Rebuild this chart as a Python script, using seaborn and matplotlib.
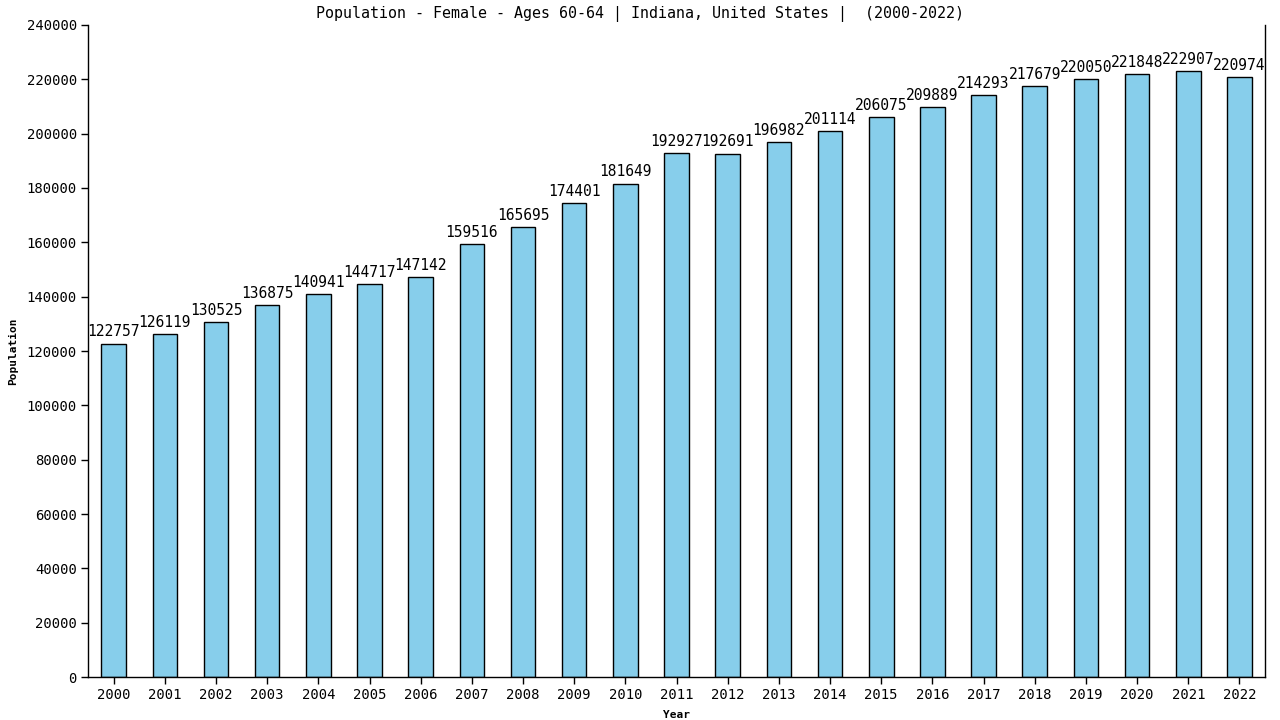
import pandas as pd
import matplotlib
matplotlib.use("Agg")
import matplotlib.pyplot as plt
import seaborn as sns

# data
years = [str(y) for y in range(2000, 2023)]
population = [122757, 126119, 130525, 136875, 140941, 144717, 147142, 159516,
              165695, 174401, 181649, 192927, 192691, 196982, 201114, 206075,
              209889, 214293, 217679, 220050, 221848, 222907, 220974]

df = pd.DataFrame({"Year": years, "Population": population})

sns.set_theme(style="white")
plt.rcParams['font.family'] = ['DejaVu Sans Mono']
plt.rcParams['text.color'] = 'black'
plt.rcParams['axes.labelcolor'] = 'black'
plt.rcParams['xtick.color'] = 'black'
plt.rcParams['ytick.color'] = 'black'

fig = plt.figure(figsize=(12.8, 7.2), dpi=100)
ax = fig.add_axes([0.0688, 0.0597, 0.9195, 0.9056])

sns.barplot(data=df, x="Year", y="Population", color="#87ceeb", saturation=1,
            width=0.48, edgecolor="black", linewidth=1, ax=ax)

for i, v in enumerate(population):
    ax.text(i, v + 1500, str(v), ha="center", va="bottom", fontsize=10.5, color="black")

ax.set_ylim(0, 240000)
ax.set_xlim(-0.5, len(years) - 0.5)
ax.set_yticks(range(0, 240001, 20000))
ax.tick_params(axis="both", labelsize=10, length=5, width=1, colors="black",
               left=True, bottom=True, pad=3)
ax.spines["top"].set_visible(False)
for s in ["left", "bottom", "right"]:
    ax.spines[s].set_color("black")
    ax.spines[s].set_linewidth(1)

ax.set_xlabel("Year", fontsize=8, fontweight="bold", labelpad=6)
ax.set_ylabel("Population", fontsize=8, fontweight="bold", labelpad=6)
fig.text(0.5, 0.992, "Population - Female - Ages 60-64 | Indiana, United States |  (2000-2022)",
         ha="center", va="top", fontsize=10.8, color="black")

fig.savefig("out.png", dpi=100)
